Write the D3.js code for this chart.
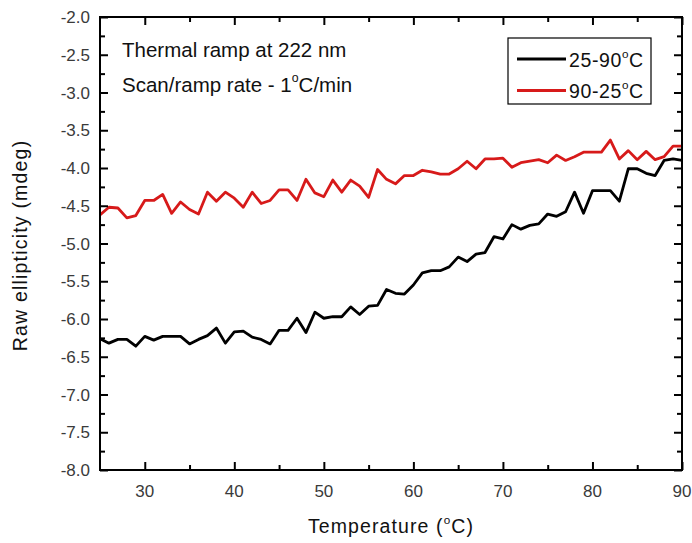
<!DOCTYPE html>
<html>
<head>
<meta charset="utf-8">
<script src="https://cdn.jsdelivr.net/npm/d3@7"></script>
<style>
  html, body { margin: 0; padding: 0; background: #fff; }
  svg { display: block; font-family: "Liberation Sans", Arial, sans-serif; }
</style>
</head>
<body>
<svg id="chart" width="692" height="543"></svg>
<script>
// Temperature axis (°C), one reading per degree
const temperatures = d3.range(25, 91);

// Heating scan 25 → 90 °C (mdeg)
const heating = [
  -6.26, -6.32, -6.27, -6.27, -6.36, -6.23, -6.28, -6.23, -6.23, -6.23,
  -6.33, -6.27, -6.22, -6.12, -6.32, -6.17, -6.16, -6.24, -6.27, -6.33,
  -6.15, -6.15, -5.99, -6.18, -5.91, -5.99, -5.97, -5.97, -5.84, -5.94,
  -5.83, -5.82, -5.61, -5.66, -5.67, -5.55, -5.39, -5.36, -5.36, -5.31,
  -5.18, -5.24, -5.14, -5.12, -4.91, -4.94, -4.75, -4.81, -4.76, -4.74,
  -4.61, -4.64, -4.58, -4.32, -4.60, -4.30, -4.30, -4.30, -4.44, -4.01,
  -4.01, -4.07, -4.10, -3.90, -3.88, -3.90
];

// Cooling scan 90 → 25 °C (mdeg), listed by temperature
const cooling = [
  -4.62, -4.52, -4.53, -4.66, -4.63, -4.43, -4.43, -4.35, -4.60, -4.45,
  -4.55, -4.61, -4.32, -4.44, -4.32, -4.40, -4.52, -4.32, -4.47, -4.43,
  -4.29, -4.29, -4.43, -4.15, -4.33, -4.38, -4.16, -4.32, -4.16, -4.24,
  -4.39, -4.02, -4.15, -4.21, -4.10, -4.10, -4.03, -4.05, -4.08, -4.08,
  -4.01, -3.91, -4.01, -3.88, -3.88, -3.87, -3.99, -3.93, -3.91, -3.89,
  -3.93, -3.83, -3.90, -3.85, -3.79, -3.79, -3.79, -3.63, -3.88, -3.77,
  -3.89, -3.78, -3.89, -3.85, -3.71, -3.71
];

const xMajorTicks = [30, 40, 50, 60, 70, 80, 90];
const xMinorTicks = [35, 45, 55, 65, 75, 85];
const yMajorTicks = [-2.0, -2.5, -3.0, -3.5, -4.0, -4.5, -5.0, -5.5, -6.0, -6.5, -7.0, -7.5, -8.0];
const yMinorTicks = d3.range(-7.75, -2.0, 0.5);

const seriesNames = ["25-90", "90-25"];
const seriesColors = ["#000000", "#d71a1a"];

const svg = d3.select("#chart");
const plotLeft = 100, plotRight = 682, plotTop = 17, plotBottom = 470;

const x = d3.scaleLinear().domain([25, 90]).range([plotLeft, plotRight]);
const y = d3.scaleLinear().domain([-8, -2]).range([plotBottom, plotTop]);

// Data lines
const line = d3.line().x((d, i) => x(temperatures[i])).y(d => y(d));
[heating, cooling].forEach((vals, k) => {
  svg.append("path")
    .datum(vals)
    .attr("d", line)
    .attr("fill", "none")
    .attr("stroke", seriesColors[k])
    .attr("stroke-width", 2.8)
    .attr("stroke-linejoin", "round");
});

// Axes with inward ticks on all four sides
function addAxis(axisFn, scale, ticks, size, transform) {
  const g = svg.append("g").attr("transform", transform)
    .call(axisFn(scale).tickValues(ticks).tickSize(size).tickFormat(""));
  g.select(".domain").remove();
  g.selectAll(".tick line").attr("stroke", "#000").attr("stroke-width", 2);
  return g;
}
// bottom
addAxis(d3.axisTop, x, xMajorTicks, 8, `translate(0,${plotBottom})`);
addAxis(d3.axisTop, x, xMinorTicks, 5, `translate(0,${plotBottom})`);
// top
addAxis(d3.axisBottom, x, xMajorTicks, 8, `translate(0,${plotTop})`);
addAxis(d3.axisBottom, x, xMinorTicks, 5, `translate(0,${plotTop})`);
// left
addAxis(d3.axisRight, y, yMajorTicks, 8, `translate(${plotLeft},0)`);
addAxis(d3.axisRight, y, yMinorTicks, 5, `translate(${plotLeft},0)`);
// right
addAxis(d3.axisLeft, y, yMajorTicks, 8, `translate(${plotRight},0)`);
addAxis(d3.axisLeft, y, yMinorTicks, 5, `translate(${plotRight},0)`);

// Frame
svg.append("rect")
  .attr("x", plotLeft).attr("y", plotTop)
  .attr("width", plotRight - plotLeft).attr("height", plotBottom - plotTop)
  .attr("fill", "none").attr("stroke", "#000").attr("stroke-width", 2);

// Tick labels (plain hyphen for the minus sign)
const labelColor = "#3a3a3a";
svg.append("g").selectAll("text")
  .data(yMajorTicks).join("text")
  .attr("x", plotLeft - 10).attr("y", d => y(d))
  .attr("dy", "0.36em")
  .attr("text-anchor", "end")
  .attr("font-size", 17)
  .attr("fill", labelColor)
  .text(d => d.toFixed(1));

svg.append("g").selectAll("text")
  .data(xMajorTicks).join("text")
  .attr("x", d => x(d)).attr("y", 497)
  .attr("text-anchor", "middle")
  .attr("font-size", 17)
  .attr("fill", labelColor)
  .text(d => d);

// Text with a superscript "o" used as the degree sign
function degreeText(sel, before, after, size) {
  sel.append("tspan").text(before);
  sel.append("tspan").attr("font-size", size * 0.6).attr("dy", -size * 0.45).text("o");
  sel.append("tspan").attr("dy", size * 0.45).text(after);
  return sel;
}

// Axis titles
degreeText(
  svg.append("text")
    .attr("x", (plotLeft + plotRight) / 2).attr("y", 533)
    .attr("text-anchor", "middle")
    .attr("font-size", 19.5)
    .attr("letter-spacing", 1.1)
    .attr("fill", "#111"),
  "Temperature (", "C)", 19.5);

svg.append("text")
  .attr("transform", `translate(27,${(plotTop + plotBottom) / 2 + 2}) rotate(-90)`)
  .attr("text-anchor", "middle")
  .attr("font-size", 19.5)
  .attr("letter-spacing", 1.2)
  .attr("fill", "#111")
  .text("Raw ellipticity (mdeg)");

// Annotation
svg.append("text")
  .attr("x", 122).attr("y", 57)
  .attr("font-size", 20.5).attr("fill", "#111")
  .text("Thermal ramp at 222 nm");
degreeText(
  svg.append("text")
    .attr("x", 122).attr("y", 91.5)
    .attr("font-size", 20.5).attr("fill", "#111"),
  "Scan/ramp rate - 1", "C/min", 20.5);

// Legend
const legend = svg.append("g");
legend.append("rect")
  .attr("x", 508).attr("y", 38).attr("width", 143).attr("height", 66)
  .attr("fill", "#fff").attr("stroke", "#000").attr("stroke-width", 1.2);
seriesNames.forEach((name, k) => {
  const ly = 59 + k * 31.5;
  legend.append("line")
    .attr("x1", 517).attr("x2", 566).attr("y1", ly).attr("y2", ly)
    .attr("stroke", seriesColors[k]).attr("stroke-width", 2.8);
  degreeText(
    legend.append("text")
      .attr("x", 569).attr("y", ly + 7.5)
      .attr("font-size", 19.5)
      .attr("letter-spacing", 0.6)
      .attr("fill", "#111"),
    name, "C", 19.5);
});
</script>
</body>
</html>
